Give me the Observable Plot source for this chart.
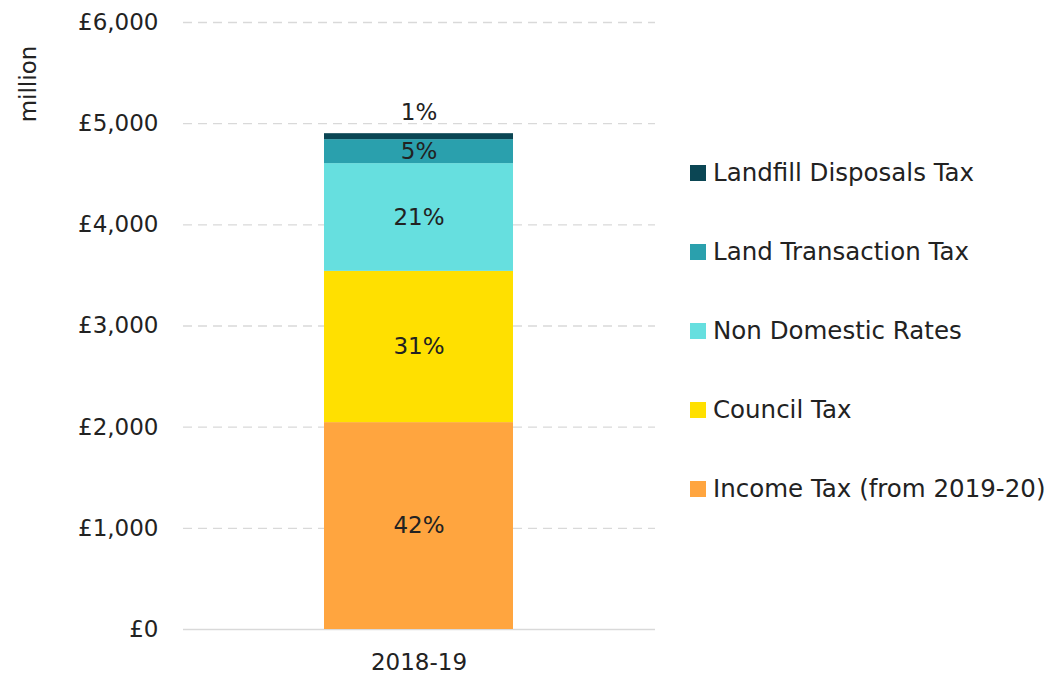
<!DOCTYPE html>
<html>
<head>
<meta charset="utf-8">
<script src="https://cdn.jsdelivr.net/npm/d3@7"></script>
<script src="https://cdn.jsdelivr.net/npm/@observablehq/plot@0.6"></script>
<style>
  html, body { margin: 0; padding: 0; background: #fff; }
  #wrap { position: relative; width: 1057px; height: 676px; font-family: "DejaVu Sans", sans-serif; }
  #legend { position: absolute; left: 690px; top: 0; }
  .item { position: absolute; display: flex; align-items: center; white-space: nowrap; font-size: 24.5px; color: #222; }
  .sw { width: 16px; height: 16px; margin-right: 7px; }
  #ylabel { position: absolute; left: 28px; top: 84px; transform: translate(-50%, -50%) rotate(-90deg); font-size: 23px; color: #222; }
</style>
</head>
<body>
<div id="wrap">
  <div id="chart"></div>
  <div id="ylabel">million</div>
  <div id="legend"></div>
</div>
<script>
const year = "2018-19";
const taxes = ["Income Tax (from 2019-20)", "Council Tax", "Non Domestic Rates", "Land Transaction Tax", "Landfill Disposals Tax"];
const values = [2045, 1495, 1065, 237, 59];
const shares = ["42%", "31%", "21%", "5%", "1%"];
const colors = ["#ffa53f", "#ffe000", "#66dfdf", "#2aa0ad", "#0b4654"];
const yTicks = [0, 1000, 2000, 3000, 4000, 5000, 6000];
const legendOrder = ["Landfill Disposals Tax", "Land Transaction Tax", "Non Domestic Rates", "Council Tax", "Income Tax (from 2019-20)"];

const data = taxes.map((t, i) => ({year, tax: t, value: values[i], share: shares[i]}));
const topTax = "Landfill Disposals Tax";

const plot = Plot.plot({
  width: 680,
  height: 676,
  marginLeft: 183,
  marginRight: 25,
  marginTop: 22,
  marginBottom: 47,
  style: {fontFamily: "DejaVu Sans, sans-serif", fontSize: "23px", color: "#222", background: "transparent"},
  x: {domain: [year], padding: 0.426, label: null},
  y: {domain: [0, 6000], label: null},
  color: {domain: taxes, range: colors},
  marks: [
    Plot.ruleY(yTicks.filter(d => d > 0), {stroke: "#d9d9d9", strokeWidth: 1.3, strokeDasharray: "9,6"}),
    Plot.ruleY([0], {stroke: "#d9d9d9", strokeWidth: 1.5}),
    Plot.axisY({ticks: yTicks, tickFormat: d => "£" + d3.format(",")(d), tickSize: 0, tickPadding: 25, fontSize: 23, label: null, fill: "#222"}),
    Plot.axisX({tickSize: 0, tickPadding: 24, fontSize: 23, label: null, fill: "#222"}),
    Plot.barY(data, Plot.stackY({x: "year", y: "value", fill: "tax", order: null})),
    Plot.text(data, Plot.stackY({x: "year", y: "value", order: null, text: d => d.tax === topTax ? "" : d.share, fill: "#222", fontSize: 23})),
    Plot.text(data, Plot.stackY2({x: "year", y: "value", order: null, text: d => d.tax === topTax ? d.share : "", fill: "#222", fontSize: 23, dy: -21}))
  ]
});
document.getElementById("chart").appendChild(plot);

const legendY = {"Landfill Disposals Tax": 173, "Land Transaction Tax": 252, "Non Domestic Rates": 331, "Council Tax": 410, "Income Tax (from 2019-20)": 489};
const lg = document.getElementById("legend");
legendOrder.forEach(t => {
  const div = document.createElement("div");
  div.className = "item";
  div.style.top = (legendY[t] - 15) + "px";
  div.style.left = "0px";
  const sw = document.createElement("span");
  sw.className = "sw";
  sw.style.background = colors[taxes.indexOf(t)];
  const tx = document.createElement("span");
  tx.textContent = t;
  div.appendChild(sw);
  div.appendChild(tx);
  lg.appendChild(div);
});
</script>
</body>
</html>
